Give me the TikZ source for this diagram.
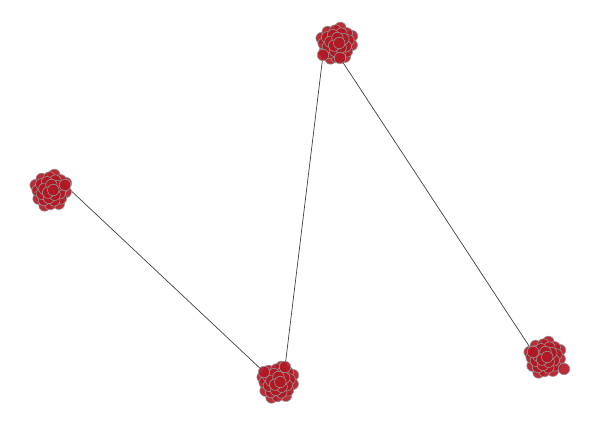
\documentclass[tikz,border=0pt]{standalone}
\usetikzlibrary{backgrounds}
\definecolor{dotred}{RGB}{178,22,34}
\definecolor{dotedge}{RGB}{150,150,150}
\begin{document}
\begin{tikzpicture}[x=1pt,y=-1pt,
  dot/.style={circle,inner sep=0pt,minimum size=11.5pt,fill=dotred,draw=dotedge,line width=0.6pt,fill opacity=0.9},
  link/.style={draw=black!75,line width=0.7pt}]
\useasboundingbox (0,0) rectangle (600,426);
\foreach \cx/\cy/\nm in {51/190/A,337/43/B,278/382/C,545/357/D}{
  \foreach \i in {27,26,...,0}{
    \pgfmathsetmacro\r{3.2*sqrt(\i+0.5)}
    \pgfmathsetmacro\t{\i*137.508}
    \node[dot] (\nm\i) at ({\cx+\r*cos(\t)},{\cy+\r*sin(\t)}) {};
  }
}
% connector end dots
\node[dot] (Aout) at (65,185) {};
\node[dot] (Cin1) at (264,372) {};
\node[dot] (Cin2) at (285,367) {};
\node[dot] (Bout1) at (323,55) {};
\node[dot] (Bout2) at (340,58) {};
\node[dot] (Din) at (533,352) {};
\node[dot] (Dx) at (564,369) {};
\begin{scope}[on background layer]
\draw[link] (Aout.center) -- (Cin1.center);
\draw[link] (Cin2.center) -- (Bout1.center);
\draw[link] (Bout2.center) -- (Din.center);
\end{scope}
\end{tikzpicture}
\end{document}
